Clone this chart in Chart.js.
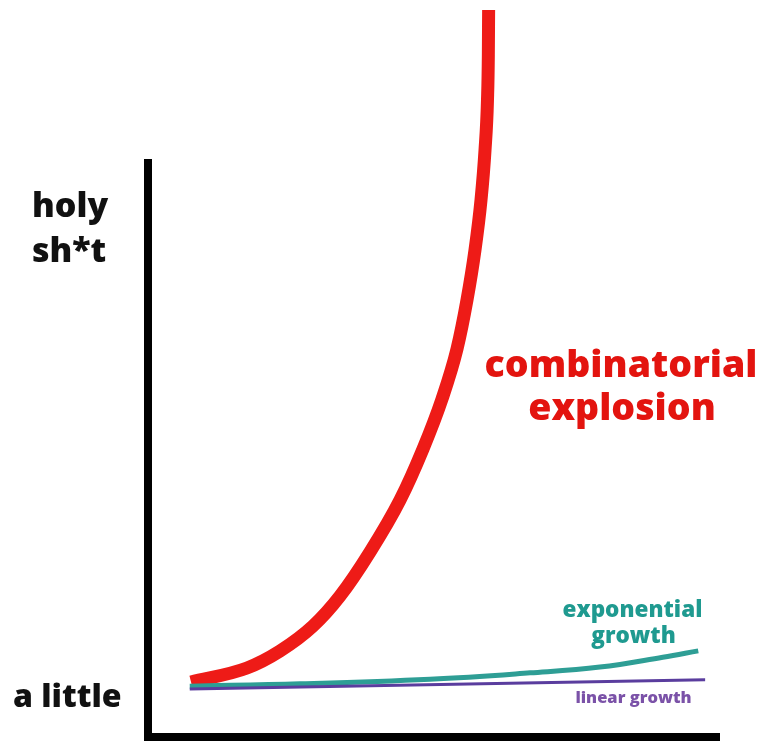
<!DOCTYPE html>
<html>
<head>
<meta charset="utf-8">
<script src="https://cdn.jsdelivr.net/npm/chart.js@4.4.1/dist/chart.umd.min.js"></script>
<style>
  html, body { margin: 0; padding: 0; background: #ffffff; }
  #wrap { width: 763px; height: 741px; }
</style>
</head>
<body>
<div id="wrap"><canvas id="c" width="763" height="741"></canvas></div>
<script>
// ---- data (x: problem size, y: amount of stuff; both 0..100 on axes) ----
const combX = [7.52, 17.31, 23.08, 28.85, 33.57, 38.81, 44.06, 48.08, 51.40, 54.02, 55.77, 57.17, 58.22, 58.92, 59.35, 59.50, 59.55];
const combY = [9.52, 11.94, 14.88, 19.20, 24.39, 32.01, 41.00, 49.83, 58.48, 67.13, 75.61, 84.26, 92.91, 101.56, 110.21, 118.0, 125.78];
const expoX = [7.3, 26.6, 49.3, 66.8, 79.0, 90.0, 96.2];
const expoY = [8.8, 9.2, 10.0, 11.1, 12.1, 13.8, 14.9];
const linX  = [7.3, 97.4];
const linY  = [8.3, 9.9];
const yTickLabels = [["holy", "sh*t"], ["a little"]];
const seriesLabels = [["combinatorial", "explosion"], ["exponential", "growth"], ["linear growth"]];

const pts = (xs, ys) => xs.map((x, i) => ({ x: x, y: ys[i] }));

const FAMILY = '"Open Sans", Lato, sans-serif';
const annot = {
  id: 'annot',
  afterDatasetsDraw(chart) {
    const ctx = chart.ctx;
    const a = chart.chartArea;
    ctx.save();
    // axes
    ctx.fillStyle = '#000';
    ctx.fillRect(a.left - 4, a.top, 8, a.bottom + 4 - a.top);
    ctx.fillRect(a.left - 4, a.bottom - 4, a.right - a.left + 4, 8);
    // y labels
    ctx.fillStyle = '#111';
    ctx.textAlign = 'left';
    ctx.textBaseline = 'alphabetic';
    ctx.font = '800 34px ' + FAMILY;
    ctx.fillText(yTickLabels[0][0], 32, 217);
    ctx.fillText(yTickLabels[0][1], 32, 262);
    ctx.font = '800 32px ' + FAMILY;
    ctx.fillText(yTickLabels[1][0], 13, 707);
    // series labels
    ctx.textAlign = 'center';
    ctx.fillStyle = '#e3140f';
    ctx.font = '800 37.5px ' + FAMILY;
    ctx.fillText(seriesLabels[0][0], 621, 377);
    ctx.fillText(seriesLabels[0][1], 622, 420);
    ctx.fillStyle = '#1f9a90';
    ctx.font = '800 22.5px ' + FAMILY;
    ctx.fillText(seriesLabels[1][0], 632.5, 617);
    ctx.fillText(seriesLabels[1][1], 633.5, 643);
    ctx.fillStyle = '#7b52a8';
    ctx.font = '800 16.5px ' + FAMILY;
    ctx.fillText(seriesLabels[2][0], 633.5, 703);
    ctx.restore();
  }
};

new Chart(document.getElementById('c'), {
  type: 'line',
  data: {
    datasets: [
      { label: 'linear growth', data: pts(linX, linY), borderColor: '#5a3d9e', borderWidth: 3,
        pointRadius: 0, tension: 0, clip: false, order: 1 },
      { label: 'exponential growth', data: pts(expoX, expoY), borderColor: '#2e9e95', borderWidth: 5,
        pointRadius: 0, tension: 0.4, clip: false, order: 2 },
      { label: 'combinatorial explosion', data: pts(combX, combY), borderColor: '#ee1b17', borderWidth: 13,
        pointRadius: 0, cubicInterpolationMode: 'monotone', clip: false, order: 3, borderCapStyle: 'butt' }
    ]
  },
  options: {
    responsive: false,
    animation: false,
    devicePixelRatio: 1,
    layout: { padding: { left: 148, right: 43, top: 159, bottom: 4 } },
    plugins: { legend: { display: false }, tooltip: { enabled: false } },
    scales: {
      x: { type: 'linear', min: 0, max: 100, display: false },
      y: { type: 'linear', min: 0, max: 100, display: false }
    }
  },
  plugins: [annot]
});
</script>
</body>
</html>
